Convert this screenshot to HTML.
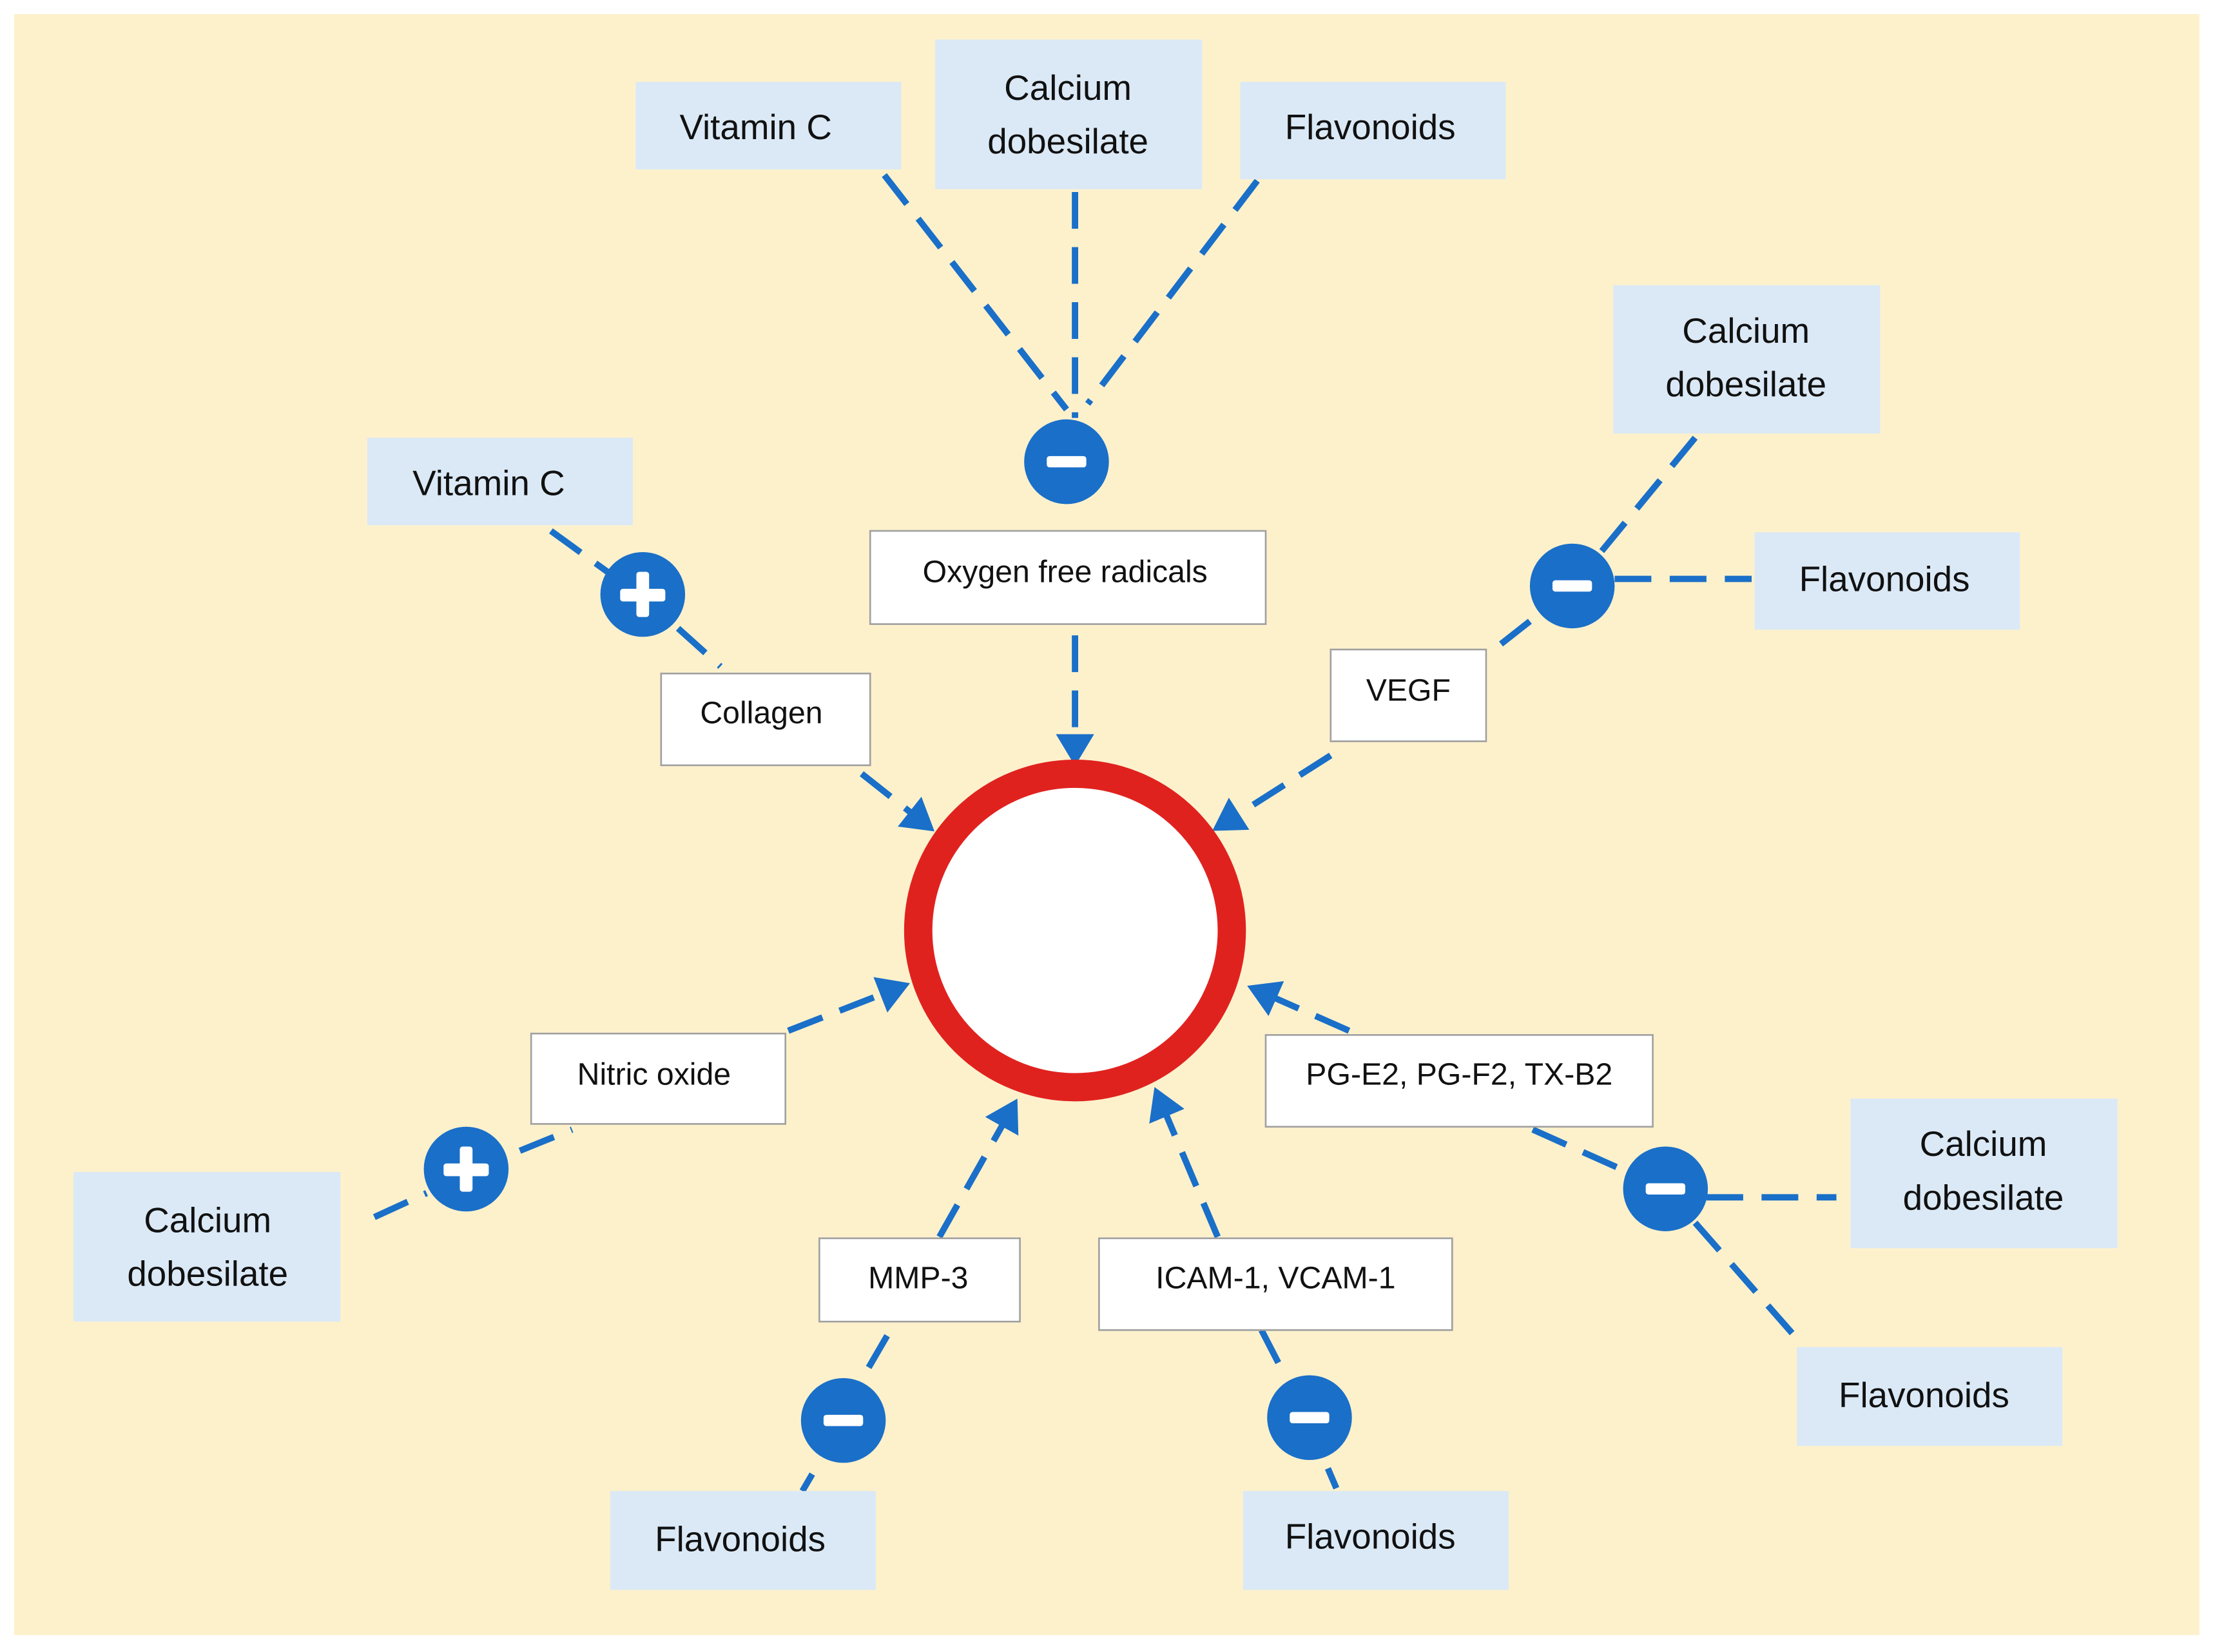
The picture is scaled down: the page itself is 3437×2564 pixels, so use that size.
<!DOCTYPE html>
<html><head><meta charset="utf-8"><style>
html,body{margin:0;padding:0;background:#fff;}
svg{display:block;}
text{font-family:"Liberation Sans",sans-serif;fill:#111;text-anchor:middle;dominant-baseline:central;}
.b{fill:#dbe9f6;}
.w{fill:#fff;stroke:#a0a0a0;stroke-width:1.2;}
.l{stroke:#1a6fc8;stroke-width:4.5;stroke-dasharray:26 13;fill:none;}
.c{fill:#1a6fc8;}
.t1{font-size:25px;}
.t2{font-size:22px;}
</style></head><body>
<svg width="3437" height="2564" viewBox="0 0 1568 1170" preserveAspectRatio="none" xmlns="http://www.w3.org/2000/svg">
<defs><marker id="a" markerWidth="6" markerHeight="6" refX="4" refY="3" orient="auto" markerUnits="strokeWidth"><path d="M0,0 L5,3 L0,6 Z" fill="#1a6fc8"/></marker></defs>
<rect x="0" y="0" width="1568" height="1170" fill="#fff"/>
<rect x="10" y="10" width="1547" height="1148" fill="#fdf1cc"/>
<!-- lines -->
<line class="l" x1="626" y1="124" x2="755" y2="290"/>
<line class="l" x1="761" y1="136" x2="761" y2="296"/>
<line class="l" x1="890" y1="128" x2="770" y2="286"/>
<line class="l" x1="761" y1="450" x2="761" y2="538" marker-end="url(#a)"/>
<line class="l" x1="390" y1="376" x2="430" y2="405"/>
<line class="l" x1="480" y1="445" x2="510" y2="472"/>
<line class="l" x1="610" y1="548" x2="658" y2="586" marker-end="url(#a)"/>
<line class="l" x1="1200" y1="310" x2="1130" y2="395"/>
<line class="l" x1="1143" y1="410" x2="1240" y2="410"/>
<line class="l" x1="1083" y1="440" x2="1055" y2="462"/>
<line class="l" x1="942" y1="535" x2="862" y2="586" marker-end="url(#a)"/>
<line class="l" x1="265" y1="862" x2="302" y2="845"/>
<line class="l" x1="368" y1="815" x2="405" y2="800"/>
<line class="l" x1="558" y1="730" x2="640" y2="698" marker-end="url(#a)"/>
<line class="l" x1="1085" y1="800" x2="1152" y2="830"/>
<line class="l" x1="1208" y1="848" x2="1300" y2="848"/>
<line class="l" x1="1200" y1="866" x2="1272" y2="948"/>
<line class="l" x1="955" y1="730" x2="887" y2="700" marker-end="url(#a)"/>
<line class="l" x1="665" y1="876" x2="718" y2="782" marker-end="url(#a)"/>
<line class="l" x1="628" y1="946" x2="610" y2="977"/>
<line class="l" x1="575" y1="1044" x2="568" y2="1056"/>
<line class="l" x1="862" y1="876" x2="819" y2="774" marker-end="url(#a)"/>
<line class="l" x1="893" y1="942" x2="910" y2="975"/>
<line class="l" x1="940" y1="1040" x2="946" y2="1054"/>
<!-- central circle -->
<circle cx="761" cy="659" r="111" fill="#fff" stroke="#e0221f" stroke-width="20"/>
<!-- blue boxes -->
<rect class="b" x="450" y="58" width="188" height="62"/><text class="t1" x="535" y="90">Vitamin C</text>
<rect class="b" x="662" y="28" width="189" height="106"/><text class="t1" x="756" y="62">Calcium</text><text class="t1" x="756" y="100">dobesilate</text>
<rect class="b" x="878" y="58" width="188" height="69"/><text class="t1" x="970" y="90">Flavonoids</text>
<rect class="b" x="1142" y="202" width="189" height="105"/><text class="t1" x="1236" y="234">Calcium</text><text class="t1" x="1236" y="272">dobesilate</text>
<rect class="b" x="1242" y="377" width="188" height="69"/><text class="t1" x="1334" y="410">Flavonoids</text>
<rect class="b" x="260" y="310" width="188" height="62"/><text class="t1" x="346" y="342">Vitamin C</text>
<rect class="b" x="52" y="830" width="189" height="106"/><text class="t1" x="147" y="864">Calcium</text><text class="t1" x="147" y="902">dobesilate</text>
<rect class="b" x="1310" y="778" width="189" height="106"/><text class="t1" x="1404" y="810">Calcium</text><text class="t1" x="1404" y="848">dobesilate</text>
<rect class="b" x="1272" y="954" width="188" height="70"/><text class="t1" x="1362" y="988">Flavonoids</text>
<rect class="b" x="432" y="1056" width="188" height="70"/><text class="t1" x="524" y="1090">Flavonoids</text>
<rect class="b" x="880" y="1056" width="188" height="70"/><text class="t1" x="970" y="1088">Flavonoids</text>
<!-- white boxes -->
<rect class="w" x="616" y="376" width="280" height="66"/><text class="t2" x="754" y="405">Oxygen free radicals</text>
<rect class="w" x="468" y="477" width="148" height="65"/><text class="t2" x="539" y="505">Collagen</text>
<rect class="w" x="942" y="460" width="110" height="65"/><text class="t2" x="997" y="489">VEGF</text>
<rect class="w" x="376" y="732" width="180" height="64"/><text class="t2" x="463" y="761">Nitric oxide</text>
<rect class="w" x="896" y="733" width="274" height="65"/><text class="t2" x="1033" y="761">PG-E2, PG-F2, TX-B2</text>
<rect class="w" x="580" y="877" width="142" height="59"/><text class="t2" x="650" y="905">MMP-3</text>
<rect class="w" x="778" y="877" width="250" height="65"/><text class="t2" x="903" y="905">ICAM-1, VCAM-1</text>
<!-- signs -->
<g fill="#fff">
<circle class="c" cx="755" cy="327" r="30"/><rect x="741" y="323" width="28" height="8" rx="2"/>
<circle class="c" cx="1113" cy="415" r="30"/><rect x="1099" y="411" width="28" height="8" rx="2"/>
<circle class="c" cx="1179" cy="842" r="30"/><rect x="1165" y="838" width="28" height="8" rx="2"/>
<circle class="c" cx="597" cy="1006" r="30"/><rect x="583" y="1002" width="28" height="8" rx="2"/>
<circle class="c" cx="927" cy="1004" r="30"/><rect x="913" y="1000" width="28" height="8" rx="2"/>
<circle class="c" cx="455" cy="421" r="30"/><rect x="439" y="417" width="32" height="9" rx="2"/><rect x="450.5" y="405" width="9" height="32" rx="2"/>
<circle class="c" cx="330" cy="828" r="30"/><rect x="314" y="824" width="32" height="9" rx="2"/><rect x="325.5" y="812" width="9" height="32" rx="2"/>
</g>
</svg>
</body></html>
